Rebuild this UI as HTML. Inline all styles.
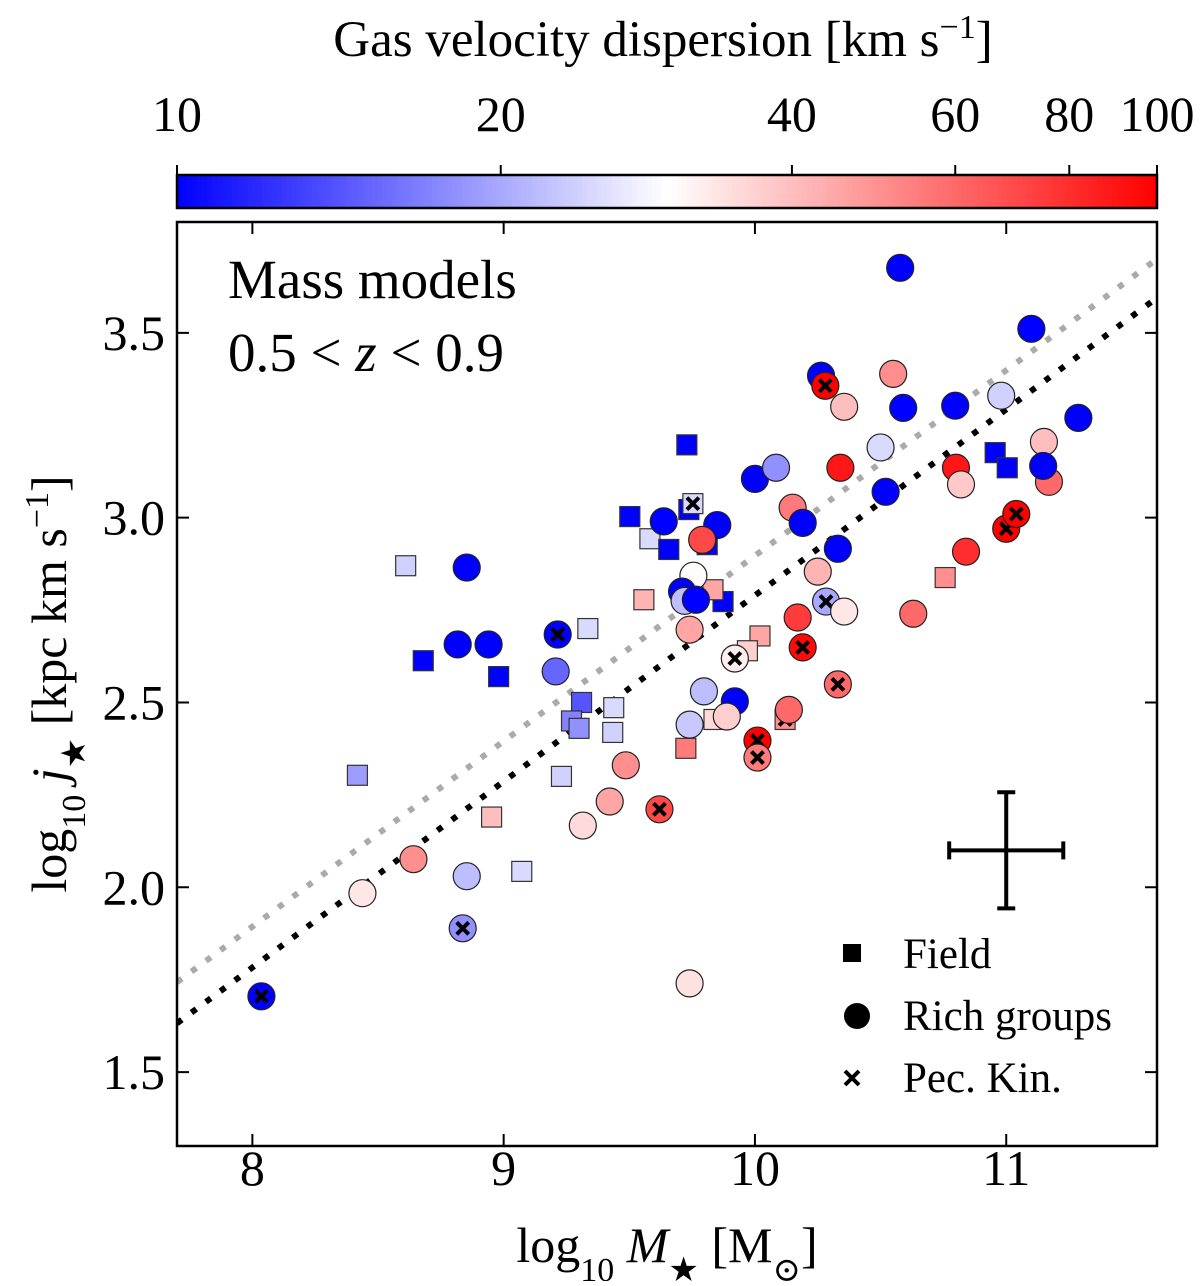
<!DOCTYPE html>
<html><head><meta charset="utf-8">
<style>
body{margin:0;background:#fff;}
svg text{font-family:"Liberation Serif","DejaVu Serif",serif;fill:#000;}
</style></head>
<body>
<svg id="chart" width="1200" height="1281" viewBox="0 0 1200 1281" xmlns="http://www.w3.org/2000/svg">
<defs>
<clipPath id="pclip"><rect x="177" y="222" width="980" height="924"/></clipPath>
</defs>
<g id="cbar">
<g id="cgrad"></g>
<rect x="177" y="175" width="980" height="33" fill="none" stroke="#000" stroke-width="2.5"/>
<text x="663" y="56" font-size="51" text-anchor="middle">Gas velocity dispersion [km s<tspan baseline-shift="super" font-size="34">−1</tspan>]</text>
</g>
<g id="marks" clip-path="url(#pclip)"></g>
<g id="axes"></g>
<g>
<text x="228" y="298" font-size="55">Mass models</text>
<text x="228" y="371" font-size="55">0.5 &lt; <tspan font-style="italic">z</tspan> &lt; 0.9</text>
</g>
<g>
<rect x="843" y="944" width="18" height="18" fill="#000"/>
<text x="903" y="968" font-size="43">Field</text>
<circle cx="857" cy="1016" r="13" fill="#000"/>
<text x="903" y="1030" font-size="43">Rich groups</text>
<path d="M845 1071 L859 1085 M859 1071 L845 1085" stroke="#000" stroke-width="4"/>
<text x="903" y="1092" font-size="43">Pec. Kin.</text>
</g>
<text x="667" y="1262" font-size="50" text-anchor="middle">log<tspan baseline-shift="sub" font-size="34">10</tspan> <tspan font-style="italic">M</tspan><tspan baseline-shift="sub" font-size="34">★</tspan> [M<tspan baseline-shift="sub" font-size="34">⊙</tspan>]</text>
<text transform="translate(66,684) rotate(-90)" font-size="50" text-anchor="middle">log<tspan baseline-shift="sub" font-size="34">10</tspan> <tspan font-style="italic">j</tspan><tspan baseline-shift="sub" font-size="34">★</tspan> [kpc km s<tspan baseline-shift="super" font-size="34">−1</tspan>]</text>
</svg>
<script>
const xTicks=[8,9,10,11];
const yTicks=[1.5,2.0,2.5,3.0,3.5];
const yTickLabels=["1.5","2.0","2.5","3.0","3.5"];
const cTicks=[10,20,40,60,80,100];
const circX=[10.578,11.10,11.287,10.59,10.797,10.98,10.263,10.355,10.55,10.50,10.52,11.15,11.17,11.147,10.80,10.82,10.34,10.0,10.084,10.15,10.19,9.85,9.637,10.33,9.79,9.755,9.71,9.72,9.765,10.84,10.25,10.283,10.355,10.63,10.17,9.74,9.92,9.215,9.207,8.817,8.94,8.853,9.797,9.92,9.888,9.74,10.135,10.01,10.01,10.33,9.486,9.422,9.315,9.62,8.641,8.438,8.853,8.837,8.036,9.74,10.28,11.0,11.04,10.19];
const circY=[3.676,3.511,3.270,3.297,3.303,3.33,3.384,3.30,3.389,3.19,3.07,3.205,3.097,3.14,3.135,3.09,3.135,3.105,3.135,3.027,2.986,2.98,2.99,2.916,2.94,2.843,2.80,2.775,2.778,2.908,2.854,2.773,2.746,2.74,2.73,2.697,2.619,2.684,2.584,2.657,2.657,2.865,2.53,2.503,2.462,2.44,2.48,2.397,2.351,2.549,2.33,2.232,2.167,2.211,2.076,1.984,2.03,1.889,1.705,1.74,3.357,2.97,3.01,2.649];
const circS=[10,10,10,10,10,24,10,40,50,25,10,40,60,10,90,38,90,10,18,55,10,10,10,10,70,30,10,22,10,80,42,20,33,60,75,45,32,10,15,10,10,10,22,10,37,23,60,100,55,60,50,45,35,70,50,33,22,18,10,34,100,100,100,95];
const circPec=[0,0,0,0,0,0,0,0,0,0,0,0,0,0,0,0,0,0,0,0,0,0,0,0,0,0,0,0,0,0,0,1,0,0,0,0,1,1,0,0,0,0,0,0,0,0,0,1,1,1,0,0,0,1,0,0,0,1,1,0,1,1,1,1];
const sqX=[9.729,9.502,9.582,9.657,9.737,9.753,9.81,9.873,9.833,9.558,8.61,8.68,8.98,9.335,9.31,9.27,9.30,9.438,9.434,9.23,8.418,8.952,9.072,9.725,10.02,9.97,9.837,10.12,10.757,10.956,11.004];
const sqY=[3.197,3.003,2.943,2.914,3.022,3.038,2.927,2.773,2.805,2.778,2.87,2.613,2.57,2.70,2.50,2.45,2.43,2.486,2.419,2.30,2.303,2.19,2.043,2.376,2.68,2.64,2.454,2.454,2.838,3.176,3.135];
const sqS=[10,10,25,10,10,25,10,10,45,42,24,10,10,25,14,17,18,25,24,24,19,40,25,55,45,37,35,50,50,10,10];
const sqPec=[0,0,0,0,0,1,0,0,0,0,0,0,0,0,0,0,0,0,0,0,0,0,0,0,0,0,0,1,0,0,0];
const fitGray=[[7.7,1.743],[11.6,3.70]];
const fitBlack=[[7.7,1.632],[11.6,3.595]];
const errCenter=[11.0,2.10], errX=0.227, errY=0.157;

const NS="http://www.w3.org/2000/svg";
const X0=177,X1=1157,Y0=222,Y1=1146, XMIN=7.7,XMAX=11.6,YMIN=1.3,YMAX=3.8;
const sx=v=>X0+(v-XMIN)/(XMAX-XMIN)*(X1-X0);
const sy=v=>Y1-(v-YMIN)/(YMAX-YMIN)*(Y1-Y0);
const OFF=2.5;
const cnorm=v=>(Math.log10(v-OFF)-Math.log10(10-OFF))/(Math.log10(100-OFF)-Math.log10(10-OFF));
const sc=v=>X0+cnorm(v)*(X1-X0);
function colT(t){t=Math.max(0,Math.min(1,t));let r,g,b;
 if(t<0.5){r=g=Math.round(t*2*255);b=255;}else{r=255;g=b=Math.round((1-t)*2*255);}
 return `rgb(${r},${g},${b})`;}
const col=s=>colT(cnorm(s));
function mk(tag,attrs,parent){const e=document.createElementNS(NS,tag);for(const k in attrs)e.setAttribute(k,attrs[k]);parent.appendChild(e);return e;}
const marks=document.getElementById('marks'), axes=document.getElementById('axes'), cbar=document.getElementById('cbar');
const cgrad=document.getElementById('cgrad');
for(let i=0;i<196;i++){const r=mk('rect',{x:X0+i*5,y:175,width:5.6,height:33,fill:colT((i+0.5)/196)},cgrad);}

[[fitGray,'#aaaaaa','fit-line-gray'],[fitBlack,'#000','fit-line-black']].forEach(([f,c,n])=>{
 const l=mk('line',{x1:sx(f[0][0]),y1:sy(f[0][1]),x2:sx(f[1][0]),y2:sy(f[1][1]),stroke:c,'stroke-width':6,'stroke-dasharray':'6 12'},marks);
 
 
});
function cross(x,y){const p=mk('path',{d:`M${x-6} ${y-6}L${x+6} ${y+6}M${x+6} ${y-6}L${x-6} ${y+6}`,stroke:'#000','stroke-width':4},marks);
 
 }
sqX.forEach((v,i)=>{const x=sx(v),y=sy(sqY[i]);
 const r=mk('rect',{x:x-10,y:y-10,width:20,height:20,fill:col(sqS[i]),stroke:'#333','stroke-width':1.2},marks);
 
 
 if(sqPec[i])cross(x,y);});
circX.forEach((v,i)=>{const x=sx(v),y=sy(circY[i]);
 const c=mk('circle',{cx:x,cy:y,r:13.5,fill:col(circS[i]),stroke:'#222','stroke-width':1.2},marks);
 
 
 if(circPec[i])cross(x,y);});
{const cx=sx(errCenter[0]),cy=sy(errCenter[1]),x1=sx(errCenter[0]-errX),x2=sx(errCenter[0]+errX),y1=sy(errCenter[1]+errY),y2=sy(errCenter[1]-errY);
 const g=mk('path',{d:`M${x1} ${cy}H${x2}M${cx} ${y1}V${y2}M${x1} ${cy-9}V${cy+9}M${x2} ${cy-9}V${cy+9}M${cx-9} ${y1}H${cx+9}M${cx-9} ${y2}H${cx+9}`,stroke:'#000','stroke-width':4,fill:'none'},axes);
 
 }
const frame=mk('rect',{x:X0,y:Y0,width:X1-X0,height:Y1-Y0,fill:'none',stroke:'#000','stroke-width':2.5},axes);


xTicks.forEach(v=>{const x=sx(v);
 mk('path',{d:`M${x} ${Y1}v-12M${x} ${Y0}v12`,stroke:'#000','stroke-width':2},axes);
 const t=mk('text',{x:x,y:1185,'font-size':50,'text-anchor':'middle'},axes);t.textContent=v;
 
 });
yTicks.forEach((v,i)=>{const y=sy(v);
 mk('path',{d:`M${X0} ${y}h12M${X1} ${y}h-12`,stroke:'#000','stroke-width':2},axes);
 const t=mk('text',{x:165,y:y+17,'font-size':50,'text-anchor':'end'},axes);t.textContent=yTickLabels[i];
 
 });
cTicks.forEach(v=>{const x=sc(v);
 mk('path',{d:`M${x} 175v-10`,stroke:'#000','stroke-width':2},cbar);
 const t=mk('text',{x:x,y:131,'font-size':50,'text-anchor':'middle'},cbar);t.textContent=v;
 
 });
</script>
</body></html>
